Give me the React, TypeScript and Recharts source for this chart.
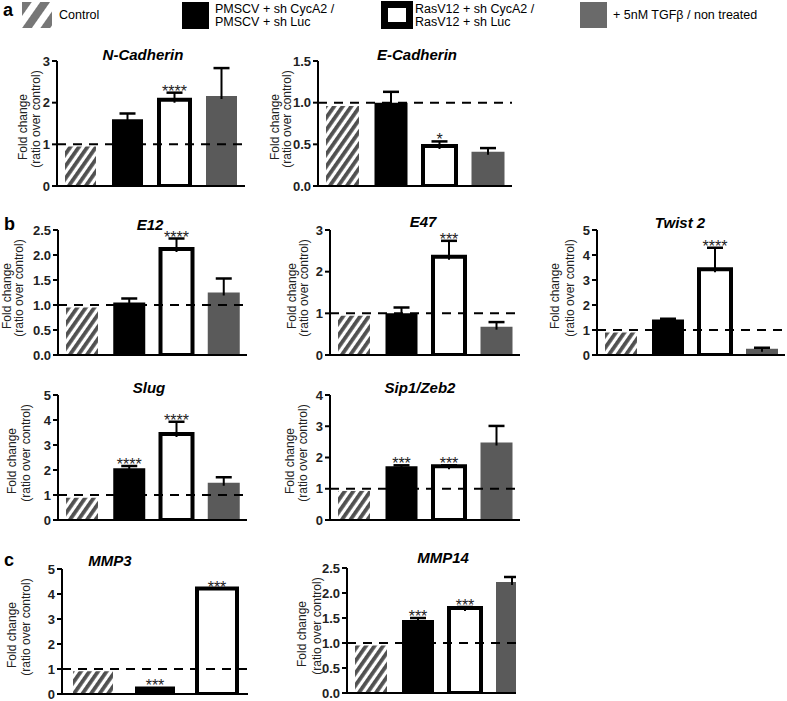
import { BarChart, Bar, XAxis, YAxis, ReferenceLine, Cell, LabelList } from 'recharts'

// groups shared by every panel
const groups = [
  'Control',
  'PMSCV + sh CycA2 / PMSCV + sh Luc',
  'RasV12 + sh CycA2 / RasV12 + sh Luc',
  '+ 5nM TGFβ / non treated',
]

// fold change (mean) / upper SEM / significance
const nCadValues = [0.95, 1.6, 2.07, 2.16]
const nCadErr = [0, 0.14, 0.17, 0.67]
const nCadSig = ['', '', '****', '']

const eCadValues = [0.96, 1.0, 0.48, 0.41]
const eCadErr = [0, 0.13, 0.055, 0.045]
const eCadSig = ['', '', '*', '']

const e12Values = [0.95, 1.05, 2.12, 1.25]
const e12Err = [0, 0.08, 0.21, 0.28]
const e12Sig = ['', '', '****', '']

const e47Values = [0.94, 1.0, 2.36, 0.68]
const e47Err = [0, 0.14, 0.38, 0.11]
const e47Sig = ['', '', '***', '']

const twistValues = [0.9, 1.42, 3.43, 0.25]
const twistErr = [0, 0.03, 0.86, 0.04]
const twistSig = ['', '', '****', '']

const slugValues = [0.89, 2.07, 3.44, 1.49]
const slugErr = [0, 0.09, 0.49, 0.22]
const slugSig = ['', '****', '****', '']

const sipValues = [0.93, 1.72, 1.72, 2.48]
const sipErr = [0, 0.03, 0.03, 0.53]
const sipSig = ['', '***', '***', '']

const mmp3Values = [0.91, 0.3, 4.22]
const mmp3Err = [0, 0, 0]
const mmp3Sig = ['', '***', '***']

const mmp14Values = [0.95, 1.46, 1.7, 2.22]
const mmp14Err = [0, 0.04, 0.02, 0.1]
const mmp14Sig = ['', '***', '***', '']

const FONT = "'Liberation Sans', Arial, Helvetica, sans-serif"
const YW = 40
const MT = 12
const MR = 2
const XH = 10
const PLOT_H = 125
const GRAY = '#5a5a5a'

function ErrorCap(props: any) {
  const { x, y, width, height } = props
  if (!height || height < 0.5) return <g />
  const cx = x + width / 2
  return (
    <g>
      <line x1={cx} x2={cx} y1={y} y2={y + height + 3} stroke="#000" strokeWidth={2} />
      <line x1={cx - 8} x2={cx + 8} y1={y} y2={y} stroke="#000" strokeWidth={2.5} />
    </g>
  )
}

function Stars(props: any) {
  const vb = props.viewBox ?? props
  const { value } = props
  if (!value) return null
  return (
    <text
      x={vb.x + vb.width / 2}
      y={vb.y + 4}
      textAnchor="middle"
      fontSize={16}
      fill="#222"
      fontFamily={FONT}
    >
      {value}
    </text>
  )
}

interface PanelProps {
  id: string
  title: string
  cats: string[]
  values: number[]
  errs: number[]
  sigs: string[]
  max: number
  ticks: number[]
  decimals: number
  axisX: number
  plotTop: number
  plotW: number
  barSize: number
  titleX: number
  titleY: number
  foldX: number
  ratioX: number
  clipRight?: number
}

function Panel(p: PanelProps) {
  const rows = p.cats.map((c, i) => ({ group: c, value: p.values[i], err: p.errs[i], sig: p.sigs[i] }))
  const fills = [`url(#hatch-${p.id})`, '#000', '#fff', GRAY]
  const w = YW + p.plotW + MR
  const h = MT + PLOT_H + XH
  const left = p.axisX - YW
  const top = p.plotTop - MT
  const mid = p.plotTop + PLOT_H / 2
  const rot = (cx: number, cy: number) => ({
    position: 'absolute' as const,
    left: cx,
    top: cy,
    transform: 'translate(-50%, -50%) rotate(-90deg)',
    whiteSpace: 'nowrap' as const,
    fontSize: 12,
    color: '#222',
  })

  return (
    <>
      <div
        style={{
          position: 'absolute',
          left,
          top,
          width: p.clipRight ? p.clipRight - left : w,
          height: h,
          overflow: 'hidden',
        }}
      >
        <BarChart width={w} height={h} data={rows} margin={{ top: MT, right: MR, left: 0, bottom: 0 }}>
          <defs>
            <pattern id={`hatch-${p.id}`} patternUnits="userSpaceOnUse" width={7} height={7} patternTransform="rotate(35)">
              <rect x={0} y={0} width={7} height={7} fill="#fff" />
              <rect x={0} y={0} width={3.8} height={7} fill="#505050" />
            </pattern>
          </defs>
          <XAxis
            dataKey="group"
            tick={false}
            tickLine={false}
            axisLine={{ stroke: '#000', strokeWidth: 2 }}
            height={XH}
          />
          <YAxis
            domain={[0, p.max]}
            ticks={p.ticks}
            interval={0}
            allowDataOverflow
            width={YW}
            tickSize={5}
            tickFormatter={(v: number) => v.toFixed(p.decimals)}
            tick={{ fontSize: 13, fontWeight: 700, fill: '#222', fontFamily: FONT }}
            axisLine={{ stroke: '#000', strokeWidth: 2 }}
            tickLine={{ stroke: '#000', strokeWidth: 2 }}
          />
          <Bar dataKey="value" stackId="s" barSize={p.barSize} isAnimationActive={false}>
            {rows.map((_, i) => (
              <Cell
                key={i}
                fill={fills[i]}
                stroke={i === 2 ? '#000' : 'none'}
                strokeWidth={i === 2 ? 4 : 0}
              />
            ))}
          </Bar>
          <Bar dataKey="err" stackId="s" barSize={p.barSize} isAnimationActive={false} shape={ErrorCap}>
            <LabelList dataKey="sig" content={Stars} />
          </Bar>
          <ReferenceLine y={1} stroke="#000" strokeWidth={2} strokeDasharray="9 7" zIndex={1000} />
        </BarChart>
      </div>
      <div
        style={{
          position: 'absolute',
          left: p.titleX,
          top: p.titleY,
          transform: 'translate(-50%, -50%)',
          fontSize: 15,
          fontWeight: 700,
          fontStyle: 'italic',
          whiteSpace: 'nowrap',
        }}
      >
        {p.title}
      </div>
      <div style={rot(p.foldX, mid + 3)}>Fold change</div>
      <div style={rot(p.ratioX, mid - 5)}>(ratio over control)</div>
    </>
  )
}

function Legend() {
  const txt = { position: 'absolute' as const, fontSize: 12.5, lineHeight: '13px', whiteSpace: 'nowrap' as const }
  return (
    <>
      <div style={{ position: 'absolute', left: 3, top: 0, fontSize: 18, fontWeight: 700 }}>a</div>
      <svg style={{ position: 'absolute', left: 22, top: 2 }} width={30} height={26}>
        <defs>
          <pattern id="hatch-legend" patternUnits="userSpaceOnUse" width={15} height={15} patternTransform="rotate(35)">
            <rect x={0} y={0} width={8} height={15} fill="#777" />
          </pattern>
        </defs>
        <rect x={0} y={0} width={30} height={26} fill="url(#hatch-legend)" />
      </svg>
      <div style={{ ...txt, left: 59, top: 9 }}>Control</div>
      <div style={{ position: 'absolute', left: 182, top: 2, width: 27, height: 27, background: '#000' }} />
      <div style={{ ...txt, left: 215, top: 3 }}>
        PMSCV + sh CycA2 /<br />PMSCV + sh Luc
      </div>
      <div
        style={{
          position: 'absolute',
          left: 381,
          top: 1,
          width: 32,
          height: 28,
          boxSizing: 'border-box',
          border: '7px solid #000',
          background: '#fff',
        }}
      />
      <div style={{ ...txt, left: 415, top: 3 }}>
        RasV12 + sh CycA2 /<br />RasV12 + sh Luc
      </div>
      <div style={{ position: 'absolute', left: 580, top: 2, width: 27, height: 26, background: '#6a6a6a' }} />
      <div style={{ ...txt, left: 613, top: 9 }}>+ 5nM TGFβ / non treated</div>
    </>
  )
}

export default function App() {
  const letter = { position: 'absolute' as const, fontSize: 18, fontWeight: 700 }
  return (
    <div
      style={{
        position: 'absolute',
        left: 0,
        top: 0,
        width: 787,
        height: 701,
        background: '#fff',
        fontFamily: FONT,
        color: '#000',
        overflow: 'hidden',
      }}
    >
      <Legend />
      <div style={{ ...letter, left: 4, top: 214 }}>b</div>
      <div style={{ ...letter, left: 4, top: 550 }}>c</div>

      <Panel id="ncad" title="N-Cadherin" cats={groups} values={nCadValues} errs={nCadErr} sigs={nCadSig}
        max={3} ticks={[0, 1, 2, 3]} decimals={0} axisX={57} plotTop={61} plotW={188} barSize={31}
        titleX={143} titleY={54} foldX={23} ratioX={36} />
      <Panel id="ecad" title="E-Cadherin" cats={groups} values={eCadValues} errs={eCadErr} sigs={eCadSig}
        max={1.5} ticks={[0, 0.5, 1, 1.5]} decimals={1} axisX={318} plotTop={61} plotW={194} barSize={33}
        titleX={417} titleY={54} foldX={275} ratioX={287} />

      <Panel id="e12" title="E12" cats={groups} values={e12Values} errs={e12Err} sigs={e12Sig}
        max={2.5} ticks={[0, 0.5, 1, 1.5, 2, 2.5]} decimals={1} axisX={58} plotTop={230} plotW={189} barSize={32}
        titleX={150} titleY={224} foldX={7} ratioX={19} />
      <Panel id="e47" title="E47" cats={groups} values={e47Values} errs={e47Err} sigs={e47Sig}
        max={3} ticks={[0, 1, 2, 3]} decimals={0} axisX={330} plotTop={230} plotW={190} barSize={32}
        titleX={423} titleY={221} foldX={292} ratioX={304} />
      <Panel id="twist" title="Twist 2" cats={groups} values={twistValues} errs={twistErr} sigs={twistSig}
        max={5} ticks={[0, 1, 2, 3, 4, 5]} decimals={0} axisX={597} plotTop={230} plotW={188} barSize={32}
        titleX={680} titleY={222} foldX={555} ratioX={570} />

      <Panel id="slug" title="Slug" cats={groups} values={slugValues} errs={slugErr} sigs={slugSig}
        max={5} ticks={[0, 1, 2, 3, 4, 5]} decimals={0} axisX={58} plotTop={395} plotW={189} barSize={32}
        titleX={149} titleY={387} foldX={12} ratioX={26} />
      <Panel id="sip" title="Sip1/Zeb2" cats={groups} values={sipValues} errs={sipErr} sigs={sipSig}
        max={4} ticks={[0, 1, 2, 3, 4]} decimals={0} axisX={330} plotTop={395} plotW={190} barSize={32}
        titleX={420} titleY={387} foldX={290} ratioX={303} />

      <Panel id="mmp3" title="MMP3" cats={groups.slice(0, 3)} values={mmp3Values} errs={mmp3Err} sigs={mmp3Sig}
        max={5} ticks={[0, 1, 2, 3, 4, 5]} decimals={0} axisX={62} plotTop={569} plotW={186} barSize={40}
        titleX={110} titleY={560} foldX={12} ratioX={26} />
      <Panel id="mmp14" title="MMP14" cats={groups} values={mmp14Values} errs={mmp14Err} sigs={mmp14Sig}
        max={2.5} ticks={[0, 0.5, 1, 1.5, 2, 2.5]} decimals={1} axisX={347} plotTop={568} plotW={188} barSize={32}
        titleX={443} titleY={557} foldX={302} ratioX={317} clipRight={516} />
    </div>
  )
}
